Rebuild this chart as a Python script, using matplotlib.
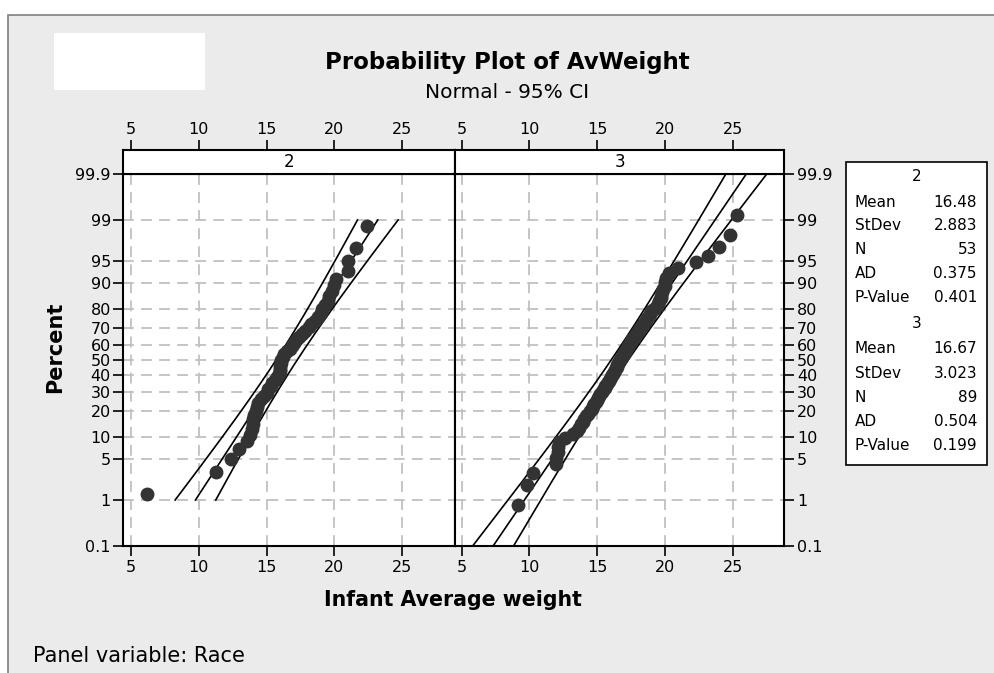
import matplotlib
matplotlib.use('Agg')
import matplotlib.pyplot as plt
import numpy as np
from statistics import NormalDist
from matplotlib.patches import Rectangle

nd = NormalDist()

# data (sorted values per panel)
race_labels = ['2', '3']
weights_2 = [6.2, 11.3, 12.4, 13.0, 13.6, 13.8, 13.9, 14.0, 14.0, 14.1,
             14.2, 14.3, 14.4, 14.6, 14.8, 15.0, 15.1, 15.3, 15.4, 15.6,
             15.8, 15.9, 16.0, 16.0, 16.0, 16.1, 16.1, 16.2, 16.3, 16.5,
             16.7, 16.9, 17.0, 17.2, 17.4, 17.6, 17.8, 18.1, 18.3, 18.6,
             18.8, 19.0, 19.1, 19.3, 19.5, 19.6, 19.8, 20.0, 20.1, 21.0,
             21.0, 21.6, 22.4]
weights_3 = [9.2, 9.8, 10.3, 12.0, 12.0, 12.1, 12.1, 12.2, 12.6, 13.2,
             13.5, 13.7, 13.85, 13.95, 14.05, 14.15, 14.3, 14.45, 14.6, 14.7,
             14.8, 14.9, 15.0, 15.05, 15.15, 15.25, 15.35, 15.45, 15.55, 15.6,
             15.7, 15.8, 15.9, 15.95, 16.0, 16.1, 16.2, 16.25, 16.3, 16.4,
             16.45, 16.5, 16.55, 16.6, 16.7, 16.8, 16.85, 16.9, 17.0, 17.05,
             17.1, 17.2, 17.3, 17.35, 17.4, 17.5, 17.6, 17.7, 17.8, 17.9,
             18.0, 18.1, 18.2, 18.3, 18.4, 18.5, 18.6, 18.7, 18.8, 18.9,
             19.0, 19.2, 19.4, 19.5, 19.6, 19.7, 19.7, 19.8, 19.9, 20.0,
             20.0, 20.1, 20.3, 21.0, 22.3, 23.2, 24.0, 24.8, 25.3]
means = [16.48, 16.67]
stdevs = [2.883, 3.023]
counts = [53, 89]
mean_txt = ['16.48', '16.67']
stdev_txt = ['2.883', '3.023']
ad_txt = ['0.375', '0.504']
pval_txt = ['0.401', '0.199']
line_ranges = [(1, 99), (0.1, 99.9)]
percent_ticks = [0.1, 1, 5, 10, 20, 30, 40, 50, 60, 70, 80, 90, 95, 99, 99.9]
percent_labels = ['0.1', '1', '5', '10', '20', '30', '40', '50', '60', '70',
                  '80', '90', '95', '99', '99.9']
x_ticks = [5, 10, 15, 20, 25]


def to_z(p):
    p = np.clip(np.asarray(p, dtype=float), 1e-7, 100 - 1e-7)
    return np.vectorize(lambda v: nd.inv_cdf(v / 100), otypes=[float])(p)


def from_z(z):
    z = np.asarray(z, dtype=float)
    return np.vectorize(lambda v: nd.cdf(v) * 100, otypes=[float])(z)


W, H = 995, 673
fig = plt.figure(figsize=(W / 100, H / 100), dpi=100)
fig.patch.set_facecolor('white')

# grey panel with frame line, white box top left
fig.add_artist(Rectangle((8 / W, -0.01), 1.0, (H - 15) / H + 0.01,
                         transform=fig.transFigure, facecolor='#ebebeb',
                         edgecolor='#808080', lw=1.2, zorder=0))
fig.add_artist(Rectangle((54 / W, 1 - 90 / H), 151 / W, 57 / H,
                         transform=fig.transFigure, facecolor='white',
                         edgecolor='none', zorder=1))

L1, R1, R2 = 123.5 / W, 454.5 / W, 784.5 / W
B, T, ST = 1 - 546 / H, 1 - 174 / H, 1 - 150 / H
xlim = (4.48, 28.83)
tick_fs = 11.5

datasets = [weights_2, weights_3]
lefts = [L1, R1]
widths = [R1 - L1, R2 - R1]

for k in range(2):
    ax = fig.add_axes([lefts[k], B, widths[k], T - B])
    ax.set_facecolor('white')
    ax.set_yscale('function', functions=(to_z, from_z))
    ax.set_xlim(*xlim)
    ax.set_ylim(0.1, 99.9)
    ax.set_xticks(x_ticks)
    ax.set_yticks(percent_ticks)
    ax.set_yticklabels(percent_labels)
    ax.minorticks_off()
    ax.grid(True, color='#c0c0c0', linestyle=(0, (6, 4)), linewidth=1.3)
    ax.set_axisbelow(True)
    for sp in ax.spines.values():
        sp.set_linewidth(1.5)

    data = np.array(datasets[k])
    n = len(data)
    pct = (np.arange(1, n + 1) - 0.3) / (n + 0.4) * 100

    # fitted line and 95% CI
    lo, hi = line_ranges[k]
    pp = np.linspace(lo, hi, 200)
    zz = to_z(pp)
    m, s = means[k], stdevs[k]
    fit = m + s * zz
    half = 1.96 * s * np.sqrt(1 / n + zz ** 2 / (2 * n))
    for xs in (fit - half, fit, fit + half):
        ax.plot(xs, pp, color='black', lw=1.2, zorder=2)

    ax.plot(data, pct, 'o', color='#333333', ms=9, mec='#333333', zorder=3)

    ax.tick_params(axis='x', direction='out', length=7, width=1.2,
                   labelsize=tick_fs, pad=3)
    if k == 0:
        ax.tick_params(axis='y', left=True, right=False, labelleft=True,
                       labelright=False, direction='out', length=7,
                       width=1.2, labelsize=tick_fs, pad=2)
    else:
        ax.tick_params(axis='y', left=False, right=True, labelleft=False,
                       labelright=True, direction='out', length=7,
                       width=1.2, labelsize=tick_fs, pad=2)

    # strip on top with its own x ticks
    st = fig.add_axes([lefts[k], T, widths[k], ST - T])
    st.set_facecolor('white')
    st.set_xlim(*xlim)
    st.set_yticks([])
    st.xaxis.tick_top()
    st.set_xticks(x_ticks)
    st.tick_params(axis='x', direction='out', length=7, width=1.2,
                   labelsize=tick_fs, pad=2)
    for sp in st.spines.values():
        sp.set_linewidth(1.5)
    st.text(0.5, 0.5, race_labels[k], transform=st.transAxes,
            ha='center', va='center', fontsize=12)

fig.text(507 / W, 1 - 62 / H, 'Probability Plot of AvWeight', ha='center',
         va='center', fontsize=16.5, fontweight='bold')
fig.text(507 / W, 1 - 93 / H, 'Normal - 95% CI', ha='center', va='center',
         fontsize=14.5)
fig.text(453 / W, 1 - 600 / H, 'Infant Average weight', ha='center',
         va='center', fontsize=14.8, fontweight='bold')
fig.text(55 / W, 1 - 347 / H, 'Percent', ha='center', va='center',
         rotation=90, fontsize=15, fontweight='bold')
fig.text(33 / W, 1 - 656 / H, 'Panel variable: Race', ha='left',
         va='center', fontsize=15)

# stats box
fig.add_artist(Rectangle((846 / W, 1 - 465 / H), 141 / W, 303 / H,
                         transform=fig.transFigure, facecolor='white',
                         edgecolor='black', lw=1.2, zorder=1))
rows_y = [[177, 202, 226, 250, 274, 298], [323, 348, 373, 398, 422, 446]]
for k in range(2):
    ys = rows_y[k]
    fig.text(917 / W, 1 - ys[0] / H, race_labels[k], ha='center',
             va='center', fontsize=11, zorder=2)
    names = ['Mean', 'StDev', 'N', 'AD', 'P-Value']
    vals = [mean_txt[k], stdev_txt[k], str(counts[k]), ad_txt[k], pval_txt[k]]
    for j in range(5):
        fig.text(855 / W, 1 - ys[j + 1] / H, names[j], ha='left',
                 va='center', fontsize=11, zorder=2)
        fig.text(977 / W, 1 - ys[j + 1] / H, vals[j], ha='right',
                 va='center', fontsize=11, zorder=2)

fig.savefig('out.png', dpi=100)
